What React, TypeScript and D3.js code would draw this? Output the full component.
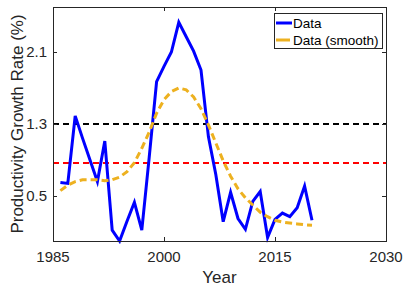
import React from 'react';
import * as d3 from 'd3';

// yearly productivity growth (%)
const years = d3.range(1986, 2021);
const growth = [
  0.65, 0.64, 1.39, 1.14, 0.9, 0.66, 1.11, 0.12, 0.0, 0.22,
  0.43, 0.12, 0.93, 1.77, 1.94, 2.1, 2.43, 2.27, 2.11, 1.9,
  1.16, 0.74, 0.215, 0.54, 0.25, 0.13, 0.44, 0.55, 0.04, 0.24,
  0.31, 0.27, 0.37, 0.61, 0.23,
];
const smooth = [
  0.56, 0.62, 0.66, 0.68, 0.68, 0.68, 0.67, 0.68, 0.71, 0.77,
  0.87, 1.03, 1.21, 1.42, 1.57, 1.66, 1.7, 1.68, 1.6, 1.47,
  1.29, 1.09, 0.89, 0.72, 0.58, 0.48, 0.4, 0.32, 0.27, 0.23,
  0.21, 0.2, 0.19, 0.18, 0.175,
];
const refLines = [
  { value: 1.3, color: '#000000' },
  { value: 0.867, color: '#ff0000' },
];
const xTicks = [1985, 2000, 2015, 2030];
const yTicks = [0.5, 1.3, 2.1];
const legendItems = [
  { label: 'Data', color: '#0000ff', dash: 'none' },
  { label: 'Data (smooth)', color: '#edb120', dash: '14,4' },
];

const W = 404;
const H = 286;
const m = { left: 53, right: 18, top: 7, bottom: 45 };
const font = '"Liberation Sans", Arial, Helvetica, sans-serif';
const axisColor = '#262626';

export default function App() {
  const x = d3.scaleLinear().domain([1985, 2030]).range([m.left, W - m.right]);
  const y = d3.scaleLinear().domain([0, 2.6]).range([H - m.bottom, m.top]);

  const line = d3
    .line<number>()
    .x((_, i) => x(years[i]))
    .y((d) => y(d));

  const [x0, x1] = x.range();
  const [y0, y1] = y.range();
  const tick = 4;

  return (
    <svg
      width={W}
      height={H}
      style={{ position: 'absolute', left: 0, top: 0, fontFamily: font }}
    >
      <rect x={0} y={0} width={W} height={H} fill="#fff" />

      {refLines.map((r) => (
        <line
          key={r.value}
          x1={x0}
          x2={x1}
          y1={y(r.value)}
          y2={y(r.value)}
          stroke={r.color}
          strokeWidth={1.2}
          strokeDasharray="6,4"
          shapeRendering="crispEdges"
        />
      ))}

      <path d={line(growth) ?? ''} fill="none" stroke="#0000ff" strokeWidth={3} strokeLinejoin="miter" />
      <path d={line(smooth) ?? ''} fill="none" stroke="#edb120" strokeWidth={3} strokeDasharray="7,4" />

      {/* axes box */}
      <rect
        x={x0}
        y={y1}
        width={x1 - x0}
        height={y0 - y1}
        fill="none"
        stroke={axisColor}
        strokeWidth={1}
        shapeRendering="crispEdges"
      />

      {xTicks.map((t) => (
        <g key={t} shapeRendering="crispEdges">
          <line x1={x(t)} x2={x(t)} y1={y0} y2={y0 - tick} stroke={axisColor} />
          <line x1={x(t)} x2={x(t)} y1={y1} y2={y1 + tick} stroke={axisColor} />
          <text x={x(t)} y={y0 + 21} textAnchor="middle" fontSize={15} fill={axisColor}>
            {t}
          </text>
        </g>
      ))}

      {yTicks.map((t) => (
        <g key={t} shapeRendering="crispEdges">
          <line x1={x0} x2={x0 + tick} y1={y(t)} y2={y(t)} stroke={axisColor} />
          <line x1={x1} x2={x1 - tick} y1={y(t)} y2={y(t)} stroke={axisColor} />
          <text x={x0 - 6} y={y(t) + 5} textAnchor="end" fontSize={15} fill={axisColor}>
            {t.toFixed(1)}
          </text>
        </g>
      ))}

      <text x={(x0 + x1) / 2} y={H - 3} textAnchor="middle" fontSize={17} fill={axisColor}>
        Year
      </text>
      <text
        transform={`translate(23, ${(y0 + y1) / 2}) rotate(-90)`}
        textAnchor="middle"
        fontSize={17}
        fill={axisColor}
      >
        Productivity Growth Rate (%)
      </text>

      {/* legend */}
      <g transform="translate(274, 13)">
        <rect
          x={0}
          y={0}
          width={108.5}
          height={35}
          fill="#fff"
          stroke={axisColor}
          strokeWidth={1}
          shapeRendering="crispEdges"
        />
        {legendItems.map((d, i) => (
          <g key={d.label} transform={`translate(0, ${10 + i * 17})`}>
            <line x1={2} x2={18} y1={0} y2={0} stroke={d.color} strokeWidth={3} strokeDasharray={d.dash} />
            <text x={19} y={5} fontSize={13.5} fill="#000">
              {d.label}
            </text>
          </g>
        ))}
      </g>
    </svg>
  );
}
